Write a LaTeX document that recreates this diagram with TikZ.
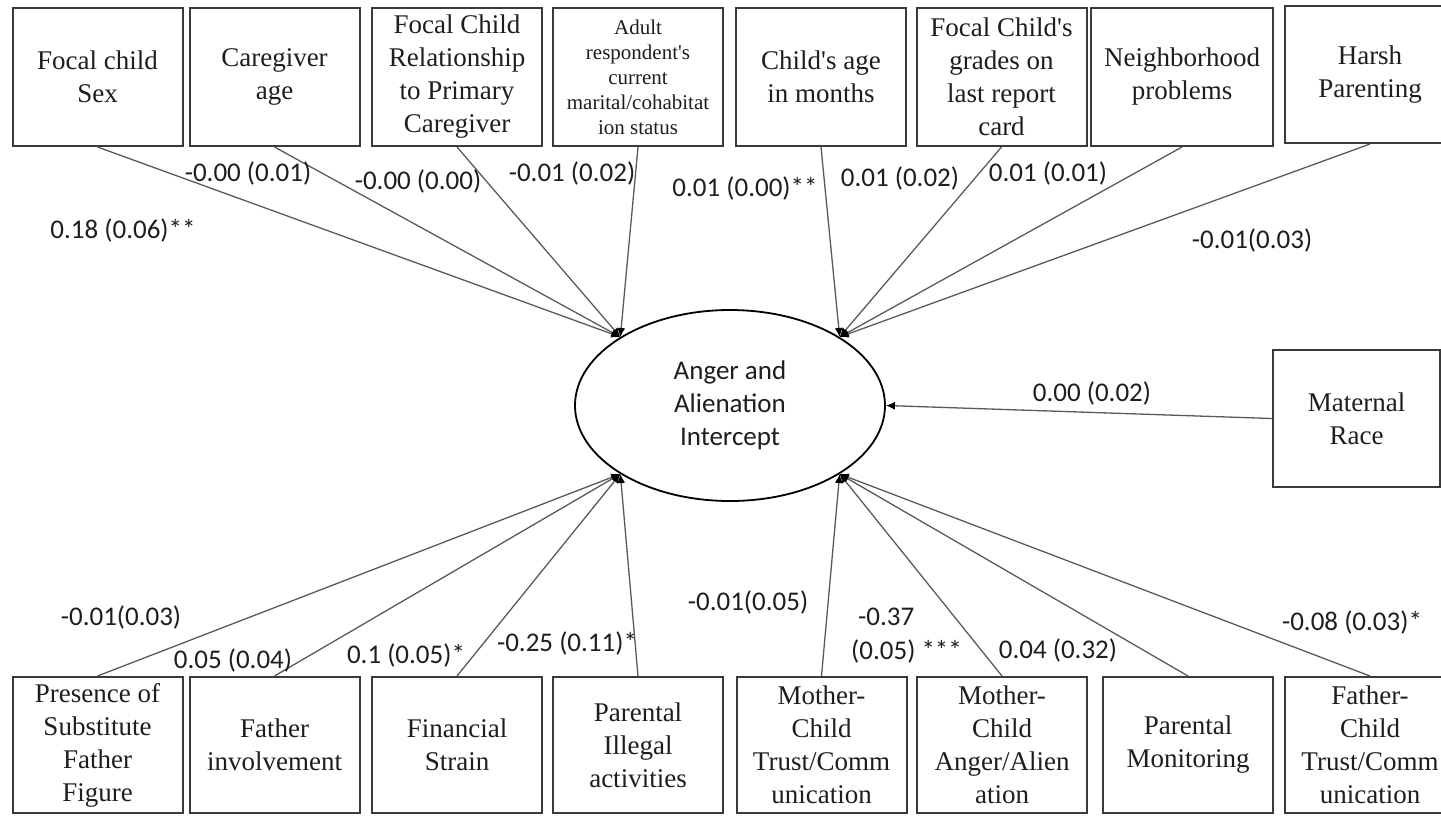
\documentclass[tikz,border=0pt]{standalone}
\usepackage{fontspec}
\newfontfamily\boxfont{Liberation Serif}
\newfontfamily\lblfont{Carlito}
\usetikzlibrary{arrows.meta,shapes.geometric}

\definecolor{boxgray}{HTML}{3A3A3A}
\definecolor{linegray}{HTML}{5A5A5A}
\definecolor{textblack}{HTML}{1E1E1E}

\begin{document}
\begin{tikzpicture}[x=1pt,y=-1pt,
  varbox/.style={draw=boxgray, line width=2pt, fill=white, inner sep=0pt,
    align=center, text=textblack, font=\boxfont\fontsize{27}{33}\selectfont},
  topbox/.style={varbox, minimum width=170pt, minimum height=138pt},
  botbox/.style={varbox, minimum width=170pt, minimum height=136pt},
  link/.style={draw=linegray, line width=1.3pt,
    -{Latex[length=9pt,width=8pt,color=black]}},
  coef/.style={inner sep=0pt, text=textblack,
    font=\lblfont\fontsize{27}{34}\selectfont}]

\useasboundingbox (0,0) rectangle (1441,815);

% latent outcome
\node[ellipse, draw=black, line width=1.8pt, fill=white, inner sep=0pt,
  minimum width=310pt, minimum height=191pt, align=center, text=textblack,
  font=\lblfont\fontsize{27}{33}\selectfont] (e) at (730,405.5)
  {Anger and\\Alienation\\Intercept};

% upper row of predictors
\node[topbox] (t1) at (97.5,77) {Focal child\\Sex};
\node[topbox] (t2) at (274.5,77) {Caregiver\\age};
\node[topbox] (t3) at (457,77) {Focal Child\\Relationship\\to Primary\\Caregiver};
\node[topbox, font=\boxfont\fontsize{21}{25}\selectfont] (t4) at (638,77)
  {Adult\\respondent's\\current\\marital/cohabitat\\ion status};
\node[topbox] (t5) at (821,77) {Child's age\\in months};
\node[topbox] (t6) at (1001.5,77) {Focal Child's\\grades on\\last report\\card};
\node[topbox, minimum width=182pt] (t7) at (1182,77) {Neighborhood\\problems};
\node[topbox, minimum height=137pt] (t8) at (1370,74.5) {Harsh\\Parenting};

% side predictor
\node[varbox, minimum width=167pt, minimum height=137pt] (mr) at (1356.5,418.5)
  {Maternal\\Race};

% lower row of predictors
\node[botbox] (b1) at (97.5,745) {Presence of\\Substitute\\Father\\Figure};
\node[botbox] (b2) at (274.5,745) {Father\\involvement};
\node[botbox] (b3) at (457,745) {Financial\\Strain};
\node[botbox] (b4) at (638,745) {Parental\\Illegal\\activities};
\node[botbox] (b5) at (821.5,745) {Mother-\\Child\\Trust/Comm\\unication};
\node[botbox] (b6) at (1002,745) {Mother-\\Child\\Anger/Alien\\ation};
\node[botbox] (b7) at (1188,745) {Parental\\Monitoring};
\node[botbox] (b8) at (1370,745) {Father-\\Child\\Trust/Comm\\unication};

% paths into the intercept
\foreach \b in {t1,t2,t3,t4} \draw[link] (\b.south) -- (e.148);
\foreach \b in {t5,t6,t7,t8} \draw[link] (\b.south) -- (e.32);
\foreach \b in {b1,b2,b3,b4} \draw[link] (\b.north) -- (e.212);
\foreach \b in {b5,b6,b7,b8} \draw[link] (\b.north) -- (e.328);
\draw[link] (mr.west) -- (e.east);

% coefficients (standard errors)
\node[coef] (k1) at (123,230) {0.18 (0.06)**};
\node[coef] (k2) at (248,173) {-0.00 (0.01)};
\node[coef] (k3) at (418,181) {-0.00 (0.00)};
\node[coef] (k4) at (572,173) {-0.01 (0.02)};
\node[coef] (k5) at (745,188) {0.01 (0.00)**};
\node[coef] (k6) at (900,178) {0.01 (0.02)};
\node[coef] (k7) at (1048,173) {0.01 (0.01)};
\node[coef] (k8) at (1252,240) {-0.01(0.03)};
\node[coef] (k9) at (1092,393) {0.00 (0.02)};
\node[coef] (k10) at (121,617) {-0.01(0.03)};
\node[coef] (k11) at (233,660) {0.05 (0.04)};
\node[coef] (k12) at (406,655) {0.1 (0.05)*};
\node[coef] (k13) at (567,643) {-0.25 (0.11)*};
\node[coef] (k14) at (748,602) {-0.01(0.05)};
\node[coef, align=left, anchor=west] (k15) at (851,636)
  {\hspace*{7pt}-0.37\\(0.05) ***};
\node[coef] (k16) at (1058,650) {0.04 (0.32)};
\node[coef] (k17) at (1352,622) {-0.08 (0.03)*};

\end{tikzpicture}
\end{document}
